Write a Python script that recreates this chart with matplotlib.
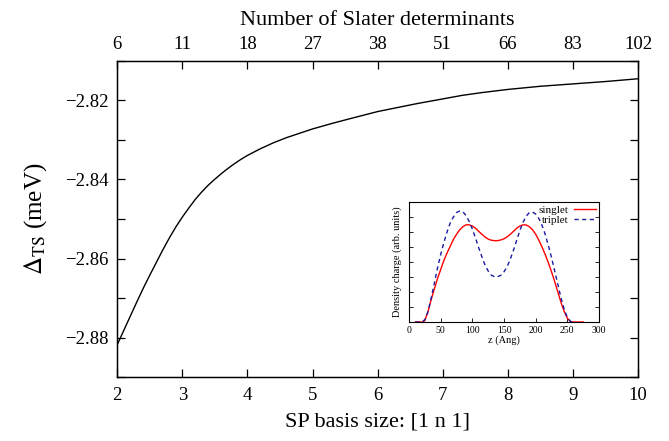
import numpy as np
import matplotlib
matplotlib.use('Agg')
from matplotlib import pyplot as plt

plt.rcParams['font.family'] = ['Liberation Serif', 'DejaVu Serif']
plt.rcParams['mathtext.fontset'] = 'stix'

#main curve: basis size n vs Delta_TS (meV)
basisN = [2.0, 2.1, 2.2, 2.3, 2.4, 2.5, 2.6, 2.7, 2.8, 2.9, 3.0, 3.1, 3.2,
          3.3, 3.4, 3.5, 3.6, 3.7, 3.8, 3.9, 4.0, 4.2, 4.4, 4.6, 4.8, 5.0,
          5.3, 5.6, 6.0, 6.3, 6.6, 7.0, 7.3, 7.6, 8.0, 8.5, 9.0, 9.5, 10.0]
deltaTS = [-2.8818, -2.8782, -2.8746, -2.8710, -2.8675, -2.8642, -2.8610,
           -2.8578, -2.8548, -2.8520, -2.8495, -2.8472, -2.8450, -2.8431,
           -2.8414, -2.8399, -2.8385, -2.8372, -2.8360, -2.8349, -2.8339,
           -2.8322, -2.8307, -2.8294, -2.8283, -2.8272, -2.8258, -2.8245,
           -2.8228, -2.8218, -2.8208, -2.8196, -2.8187, -2.8180, -2.8172,
           -2.8164, -2.8158, -2.8152, -2.8145]

topTickPos = [2, 3, 4, 5, 6, 7, 8, 9, 10]
topTickLabels = ['6', '11', '18', '27', '38', '51', '66', '83', '102']

#inset: density charge profiles
zSinglet = [10, 22, 25, 30, 35, 40, 45, 50, 55, 60, 65, 70, 75, 80, 85, 90, 95,
            100, 105, 110, 115, 120, 125, 130, 137, 140, 145, 150, 155, 160,
            165, 170, 175, 180, 185, 190, 195, 200, 205, 210, 215, 220, 225,
            230, 235, 240, 245, 250, 255, 260, 275]
singlet = [0, 0, 0.1, 0.7, 1.5, 2.2, 2.9, 3.5, 4.1, 4.6, 5.05, 5.5, 5.85, 6.15,
           6.35, 6.48, 6.48, 6.4, 6.25, 6.05, 5.85, 5.67, 5.53, 5.45, 5.42,
           5.43, 5.47, 5.55, 5.68, 5.85, 6.05, 6.25, 6.4, 6.48, 6.47, 6.35,
           6.15, 5.85, 5.45, 5.0, 4.5, 3.95, 3.35, 2.7, 2.0, 1.3, 0.7, 0.25,
           0.03, 0, 0]
zTriplet = [10, 20, 25, 30, 35, 40, 45, 50, 55, 60, 65, 70, 75, 80, 85, 90, 95,
            100, 105, 110, 115, 120, 125, 130, 136, 140, 145, 150, 155, 160,
            165, 170, 175, 180, 185, 190, 195, 200, 205, 210, 215, 220, 225,
            230, 235, 240, 245, 250, 255, 262]
triplet = [0, 0, 0.15, 0.7, 1.6, 2.6, 3.6, 4.5, 5.3, 6.0, 6.6, 7.0, 7.3, 7.4,
           7.35, 7.1, 6.7, 6.2, 5.6, 4.95, 4.35, 3.8, 3.4, 3.12, 3.0, 3.02,
           3.12, 3.35, 3.7, 4.2, 4.8, 5.45, 6.1, 6.65, 7.05, 7.3, 7.33, 7.2,
           6.9, 6.45, 5.85, 5.1, 4.3, 3.4, 2.5, 1.6, 0.85, 0.3, 0.03, 0]

fig = plt.figure(figsize=(6.69, 4.41), dpi=100)
ax = fig.add_axes([0.1753, 0.1451, 0.7784, 0.7166])

ax.plot(basisN, deltaTS, color='black', lw=1.0)
ax.set_xlim(2, 10)
ax.set_ylim(-2.89, -2.81)
ax.set_xticks(np.arange(2, 11, 1))
ax.set_yticks([-2.88, -2.86, -2.84, -2.82])
ax.set_yticks(np.arange(-2.89, -2.809, 0.01), minor=True)
ax.tick_params(which='both', direction='in', length=6, width=0.9,
               top=False, right=True, labelsize=13.5)
ax.tick_params(axis='y', pad=6)
ax.tick_params(axis='x', pad=7)
for s in ax.spines.values():
    s.set_linewidth(1.0)
ax.set_xlabel('SP basis size: [1 n 1]', fontsize=16, labelpad=6)
ax.set_ylabel(r'$\Delta_{\rm TS}$ (meV)', fontsize=18, labelpad=12)

axTop = ax.twiny()
axTop.set_xlim(2, 10)
axTop.set_xticks(topTickPos)
axTop.set_xticklabels(topTickLabels)
axTop.tick_params(direction='in', length=6, width=0.9, labelsize=13.5, pad=6)
axTop.set_xlabel('Number of Slater determinants', fontsize=16, labelpad=8)

#inset
axIn = fig.add_axes([0.6114, 0.2698, 0.2840, 0.2721])
axIn.plot(zSinglet, singlet, color='red', lw=1.0, label='singlet')
axIn.plot(zTriplet, triplet, color='#1a1aa0', lw=1.0, ls=(0, (3, 2.5)), label='triplet')
axIn.set_xlim(0, 300)
axIn.set_ylim(0, 8)
axIn.set_xticks(np.arange(0, 301, 50))
axIn.set_yticks(np.arange(0, 9, 1))
axIn.set_yticklabels([])
axIn.tick_params(direction='in', length=3, width=0.6, labelsize=7,
                 right=True, top=False, pad=3)
for s in axIn.spines.values():
    s.set_linewidth(0.8)
axIn.set_xlabel('z (Ang)', fontsize=7.5, labelpad=0)
axIn.set_ylabel('Density charge (arb. units)', fontsize=7.5, labelpad=2)
axIn.legend(loc='upper right', frameon=False, fontsize=8, markerfirst=False,
            handlelength=2.0, handletextpad=0.5, labelspacing=0.05,
            borderpad=0.15, borderaxespad=0.1)

plt.savefig('out.png', dpi=100)
